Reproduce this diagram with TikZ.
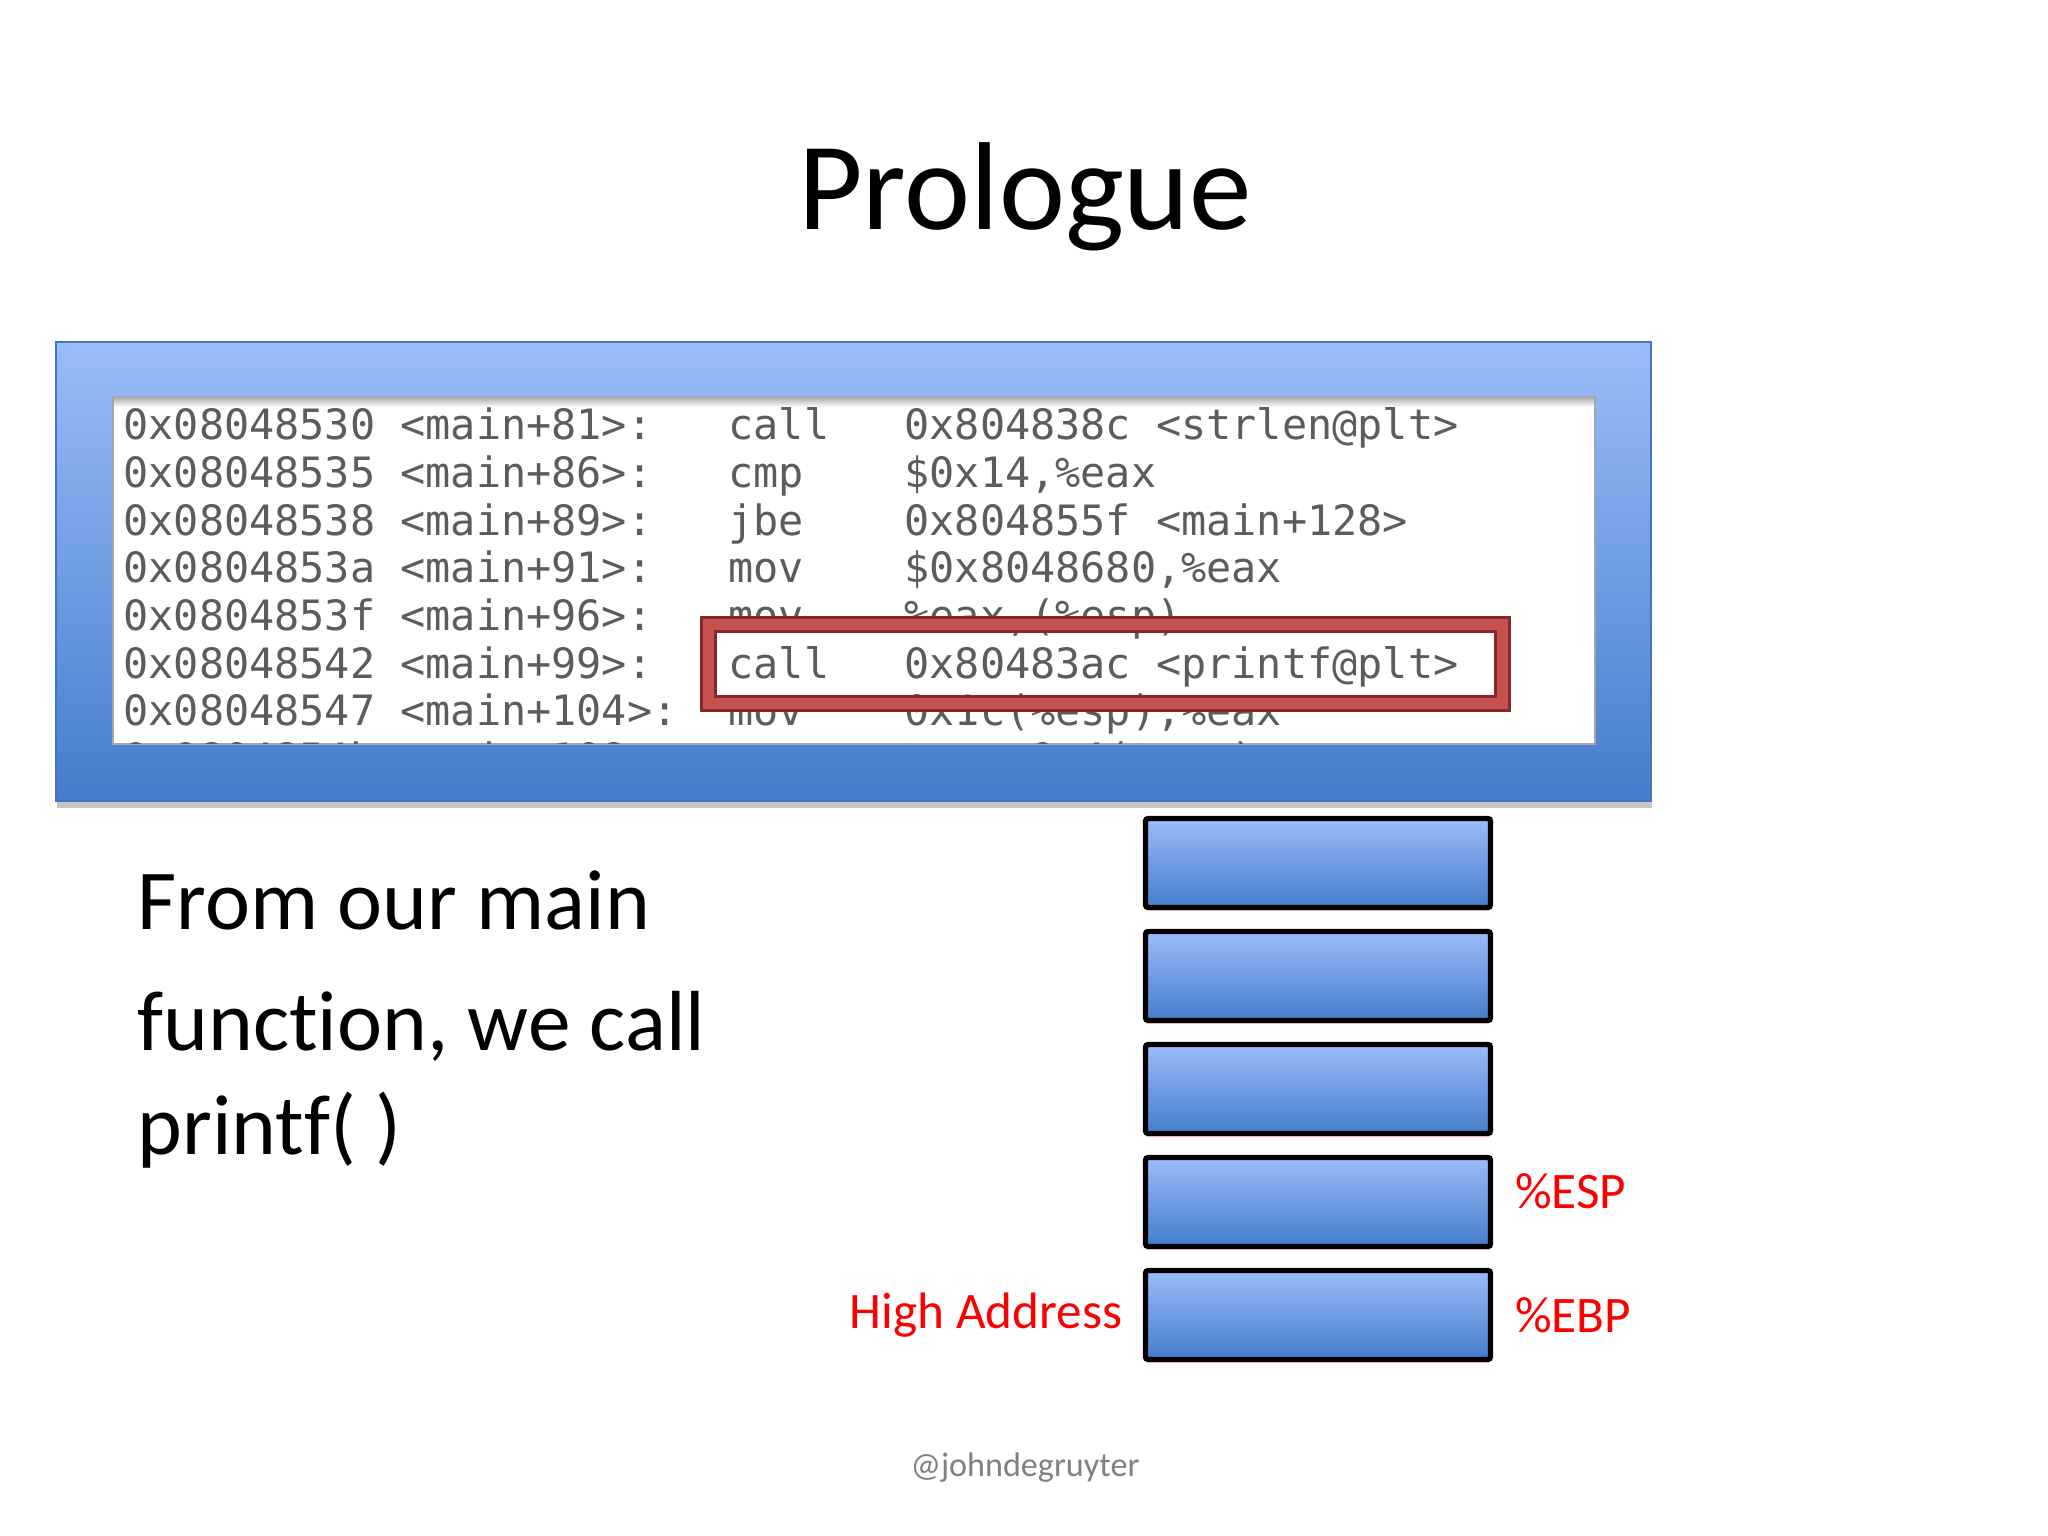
\documentclass[tikz,border=0pt]{standalone}
\usepackage{fontspec}
\setmainfont{Carlito}[Ligatures=NoCommon]
\newfontfamily\codefont{DejaVu Sans Mono}
\usepackage{tikz}
\usepackage{xcolor}
\usetikzlibrary{positioning,shadows}
\definecolor{slidelite}{RGB}{155,188,250}
\definecolor{slidedark}{RGB}{68,125,204}
\definecolor{framerim}{RGB}{70,114,190}
\definecolor{boxred}{RGB}{140,38,38}
\definecolor{boxredlite}{RGB}{196,82,78}
\definecolor{codegray}{RGB}{92,92,92}
\definecolor{regred}{RGB}{250,0,0}
\begin{document}
\begin{tikzpicture}[x=0.3515625pt,y=-0.3515625pt,
  code/.style={anchor=base west,inner sep=0,text=codegray,font=\codefont\fontsize{14.7}{17}\selectfont},
  cell/.style={draw=black,line width=1.9pt,rounded corners=1pt,top color=slidelite,bottom color=slidedark,
    minimum width=121.3pt,minimum height=31.3pt,inner sep=0,
    drop shadow={shadow xshift=0pt,shadow yshift=-1.3pt,fill=red!40,opacity=.45}},
  reglabel/.style={inner sep=0,text=regred,font=\fontsize{18}{22}\selectfont},
  body/.style={anchor=base west,inner sep=0,font=\fontsize{30}{36}\selectfont}]
\fill[white] (0,0) rectangle (2048,1536);
\useasboundingbox (0,0) rectangle (2048,1536);
\node[anchor=base,inner sep=0,font=\fontsize{44}{52}\selectfont] (title) at (1025,230) {Prologue};
% screenshot of the disassembly
\draw[framerim,top color=slidelite,bottom color=slidedark,
  drop shadow={shadow xshift=0.4pt,shadow yshift=-2.5pt,fill=black!45,opacity=.5}] (56,342) rectangle (1651,801);
\draw[black!35,fill=white] (113,397) rectangle (1595,744);
\shade[top color=black!30,bottom color=white] (114,398) rectangle (1594,407);
\begin{scope}
\clip (114,398) rectangle (1594,743);
\foreach \addr/\sym/\op/\arg [count=\n from 0] in {
  0x08048530/{<main+81>:}/call/{0x804838c <strlen@plt>},
  0x08048535/{<main+86>:}/cmp/{\$0x14,\%eax},
  0x08048538/{<main+89>:}/jbe/{0x804855f <main+128>},
  0x0804853a/{<main+91>:}/mov/{\$0x8048680,\%eax},
  0x0804853f/{<main+96>:}/mov/{\%eax,(\%esp)},
  0x08048542/{<main+99>:}/call/{0x80483ac <printf@plt>},
  0x08048547/{<main+104>:}/mov/{0x1c(\%esp),\%eax},
  0x0804854b/{<main+108>:}/mov/{\%eax,0x4(\%esp)}}
{
  \node[code] (addr\n) at (123,{440+47.6*\n}) {\addr};
  \node[code] (sym\n) at (400,{440+47.6*\n}) {\sym};
  \node[code] (op\n) at (728,{440+47.6*\n}) {\op};
  \node[code] (arg\n) at (904,{440+47.6*\n}) {\arg};
}
\end{scope}
\node[draw=boxred,double=boxredlite,double distance=4pt,line width=1pt,inner sep=0,
  minimum width=279.1pt,minimum height=27.8pt] (callbox) at (1105.5,664) {};
% the stack
\foreach \i in {1,...,5}
  \node[cell] (cell\i) at (1318,{863+113*(\i-1)}) {};
\node[reglabel,right=7.5pt of cell4,yshift=3.8pt] (esp) {\%ESP};
\node[reglabel,right=7.5pt of cell5] (ebp) {\%EBP};
\node[reglabel,left=7pt of cell5] (high) {High Address};
\node[body] (line1) at (137,929) {From our main};
\node[body] (line2) at (137,1050) {function, we call};
\node[body] (line3) at (137,1154) {printf( )};
\node[anchor=base,inner sep=0,text=black!50,font=\fontsize{12}{14}\selectfont] (handle) at (1025,1476) {@johndegruyter};
\end{tikzpicture}
\end{document}
